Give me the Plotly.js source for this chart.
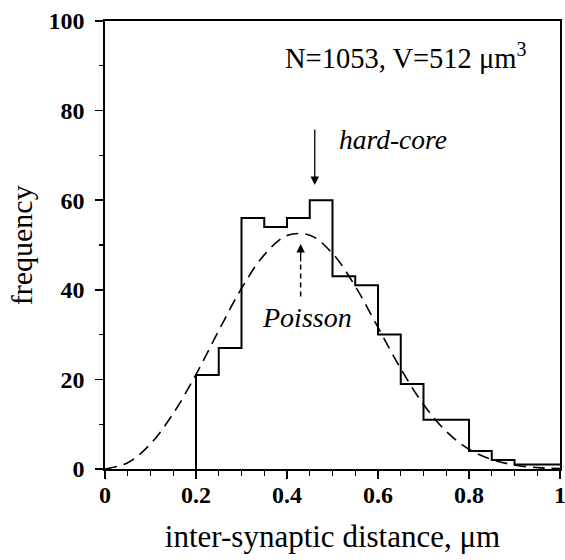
<!DOCTYPE html>
<html>
<head>
<meta charset="utf-8">
<script src="https://cdn.plot.ly/plotly-3.0.1.min.js"></script>
<style>html,body{margin:0;padding:0;background:#fff;}#chart{width:565px;height:560px;}</style>
</head>
<body>
<div id="chart"></div>
<script>
// Histogram (bin left edges, width 0.05) and counts
const binEdges = [0.20, 0.25, 0.30, 0.35, 0.40, 0.45, 0.50, 0.55, 0.60, 0.65, 0.70, 0.75, 0.80, 0.85, 0.90, 0.95, 1.00];
const counts   = [21, 27, 56, 54, 56, 60, 43, 41, 30, 19, 11, 11, 4, 2, 1, 1];

// Poisson curve
const poissonX = [0, 0.05, 0.10, 0.15, 0.20, 0.25, 0.30, 0.35, 0.40, 0.45, 0.50, 0.55, 0.60, 0.65, 0.70, 0.75, 0.80, 0.85, 0.90, 0.95, 1.00];
const poissonY = [0, 1.4, 5.6, 12.4, 21.1, 30.9, 40.3, 47.8, 52.1, 52.2, 48.1, 40.8, 31.6, 22.4, 14.4, 8.4, 4.4, 2.1, 0.9, 0.3, 0.1];

const xTicks = [0, 0.2, 0.4, 0.6, 0.8, 1];
const xTickText = ["0", "0.2", "0.4", "0.6", "0.8", "1"];
const yTicks = [0, 20, 40, 60, 80, 100];

// step outline
const stepX = [binEdges[0]].concat(binEdges.slice(0, counts.length)).concat([binEdges[binEdges.length - 1]]);
const stepY = [0].concat(counts).concat([counts[counts.length - 1]]);

const FONT = "'Liberation Serif', 'Times New Roman', serif";

const traces = [
  {
    x: stepX, y: stepY, type: "scatter", mode: "lines",
    line: {shape: "hv", color: "#000", width: 2},
    hoverinfo: "skip", showlegend: false
  },
  {
    x: poissonX, y: poissonY, type: "scatter", mode: "lines",
    line: {shape: "spline", color: "#000", width: 1.6, dash: "12px,7px"},
    hoverinfo: "skip", showlegend: false
  }
];

const layout = {
  width: 565, height: 560,
  margin: {l: 105, r: 4.5, t: 21, b: 91},
  paper_bgcolor: "#fff", plot_bgcolor: "#fff",
  font: {family: FONT, color: "#000"},
  xaxis: {
    range: [0, 1], tickvals: xTicks, ticktext: xTickText,
    ticks: "outside", ticklen: 8, tickwidth: 1.5, tickcolor: "#000",
    minor: {dtick: 0.05, tick0: 0, ticks: "outside", ticklen: 5, tickwidth: 1.2, tickcolor: "#000"},
    showline: true, linecolor: "#000", linewidth: 1.8, mirror: true,
    showgrid: false, zeroline: false, ticklabeloverflow: "allow",
    ticklabelstandoff: -5,
    tickfont: {family: FONT, size: 24, weight: "bold"},
    title: {text: "inter-synaptic distance, μm", font: {family: FONT, size: 31}, standoff: 19}
  },
  yaxis: {
    range: [0, 100], tickvals: yTicks,
    ticks: "outside", ticklen: 8, tickwidth: 1.5, tickcolor: "#000",
    minor: {dtick: 10, tick0: 0, ticks: "outside", ticklen: 4, tickwidth: 1.2, tickcolor: "#000"},
    showline: true, linecolor: "#000", linewidth: 1.8, mirror: true,
    showgrid: false, zeroline: false, ticklabeloverflow: "allow",
    ticklabelstandoff: 6,
    tickfont: {family: FONT, size: 24, weight: "bold"}
  },
  shapes: [
    {type: "line", xref: "x", yref: "y", x0: 0.43, x1: 0.43, y0: 38.5, y1: 46,
     line: {color: "#000", width: 1.5, dash: "5px,4px"}}
  ],
  annotations: [
    {x: -0.184, y: 0.5, xref: "paper", yref: "paper", xanchor: "center", yanchor: "middle",
     text: "frequency", textangle: -90, showarrow: false,
     font: {family: FONT, size: 30, color: "#000"}},
    {x: 0.929, y: 92.1, xref: "x", yref: "y", xanchor: "right", yanchor: "middle",
     text: "N=1053, V=512 μm<sup>3</sup>", showarrow: false,
     font: {family: FONT, size: 28.5, color: "#000"}},
    {x: 0.509, y: 73.5, xref: "x", yref: "y", xanchor: "left", yanchor: "middle",
     text: "<i>hard-core</i>", showarrow: false,
     font: {family: FONT, size: 27.5, color: "#000"}},
    {x: 0.461, y: 63.4, xref: "x", yref: "y", axref: "x", ayref: "y", ax: 0.461, ay: 76.1,
     text: "", showarrow: true, arrowhead: 2, arrowsize: 1.3, arrowwidth: 1.3, arrowcolor: "#000"},
    {x: 0.443, y: 33.9, xref: "x", yref: "y", xanchor: "center", yanchor: "middle",
     text: "<i>Poisson</i>", showarrow: false,
     font: {family: FONT, size: 28, color: "#000"}},
    {x: 0.43, y: 50.2, xref: "x", yref: "y", axref: "x", ayref: "y", ax: 0.43, ay: 46,
     text: "", showarrow: true, arrowhead: 2, arrowsize: 1.3, arrowwidth: 1.3, arrowcolor: "#000"}
  ]
};

Plotly.newPlot("chart", traces, layout, {displayModeBar: false, staticPlot: true});
</script>
</body>
</html>
